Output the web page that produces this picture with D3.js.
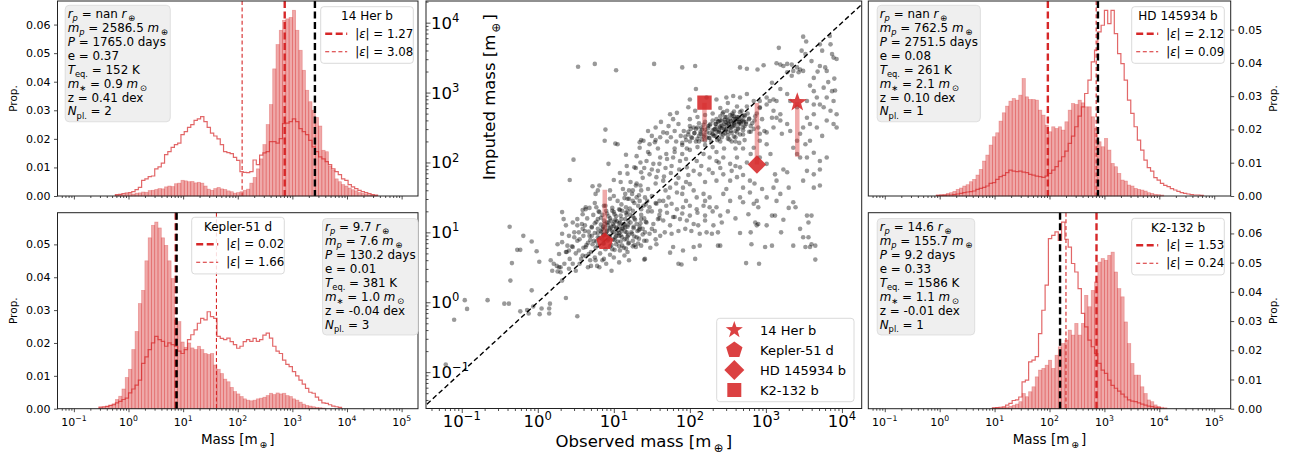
<!DOCTYPE html>
<html>
<head>
<meta charset="utf-8">
<script src="https://cdn.jsdelivr.net/npm/d3@7"></script>
<style>
  body { margin: 0; background: #fff; }
  svg { font-family: "DejaVu Sans", sans-serif; }
</style>
</head>
<body>
<svg id="fig" width="1293" height="459" font-family="DejaVu Sans"></svg>
<script>
// ---- planet data ----
const planetNames = ["14 Her b", "Kepler-51 d", "HD 145934 b", "K2-132 b"];
const radiusTxt = ["nan", "9.7", "nan", "14.6"];
const massObs = [2586.5, 7.6, 762.5, 155.7];
const periodDays = [1765.0, 130.2, 2751.5, 9.2];
const eccTxt = ["0.37", "0.01", "0.08", "0.33"];
const teqK = [152, 381, 261, 1586];
const mstarTxt = ["0.9", "1.0", "2.1", "1.1"];
const metalTxt = ["0.41", "-0.04", "0.10", "-0.01"];
const nPlanets = [2, 3, 1, 1];
const epsFilled = ["1.27", "0.02", "2.12", "1.53"];
const epsOutline = ["3.08", "1.66", "0.09", "0.24"];
// medians of the two histograms (log10 mass)
const medFilledLog = [2.86, 0.865, 1.97, 2.856];
const medOutlineLog = [2.08, 1.61, 2.85, 2.30];

// ---- histograms: log10 bin start, 0.06 dex bins, proportion x 1000 ----
const BW = 0.06;
const histStart = [-0.24, -0.54, -0.06, 0.96];
const her14Filled = [0.3,0.4,0.4,0.6,0.8,0.7,1.0,1.1,1.4,1.3, 1.9,2.0,2.3,2.6,2.5,3.2,3.5,3.3,4.3,4.5,
  5.5,5.3,5.0,5.1,4.6,4.8,4.5,3.5,2.4,2.0, 2.6,3.0,2.5,2.3,1.8,1.5,1.0,1.2,1.5,2.0,
  2.4,4.5,6.5,9.5,13.0,18.0,25.0,32.0,44.5,53.0, 58.0,61.5,62.0,62.5,65.0,58.0,51.0,44.0,37.0,33.0,
  30.0,27.5,24.5,16.0,15.5,10.5,9.0,6.0,5.0,4.0, 3.5,2.8,2.2,1.8,1.2,0.9,0.7,0.4,0.3,0.2];
const her14Outline = [0.5,0.6,0.8,1.0,1.2,1.5,2.2,3.0,5.5,6.0, 6.8,7.0,9.5,10.2,11.5,14.5,15.5,17.0,18.0,18.5,
  21.5,22.5,24.0,25.0,26.5,27.0,27.8,26.0,24.0,22.0, 21.0,20.0,18.0,15.5,15.2,14.8,13.5,12.5,8.5,8.3,
  8.2,8.5,12.6,11.0,14.3,15.1,15.5,19.0,19.0,18.5, 20.1,25.3,25.5,26.0,27.0,26.0,23.6,22.5,21.5,19.5,
  17.2,15.5,13.7,13.0,12.0,11.0,9.5,8.5,7.5,6.0, 5.5,4.0,3.2,2.6,2.0,1.5,1.2,0.8,0.5,0.3];
const kep51Filled = [0.3,0.5,0.7,1.0,1.5,2.8,3.8,6.0,9.5,12.0, 18.0,23.5,32.0,36.0,45.0,52.0,55.8,56.8,55.0,52.0,
  49.7,45.0,39.6,27.0,26.5,20.3,18.7,20.0,18.5,18.0, 19.0,18.0,16.8,16.5,16.8,13.3,12.0,10.7,9.0,8.2,
  6.5,5.2,4.5,3.7,3.0,2.6,2.4,2.6,3.0,3.2, 3.5,4.0,4.7,4.3,4.8,4.5,4.7,4.0,3.7,3.0,
  2.6,2.0,1.4,1.0,0.8,0.6,0.4,0.3,0.2];
const kep51Outline = [0.5,0.6,0.7,1.0,1.2,1.8,2.2,2.8,3.2,4.8, 6.0,7.2,8.7,13.8,15.8,18.0,20.0,22.0,21.0,20.5,
  19.0,20.0,19.5,19.0,17.5,16.8,18.0,21.0,22.5,24.0, 26.0,27.5,27.0,29.5,28.0,27.5,22.0,21.4,21.0,21.5,
  20.4,19.5,18.4,19.0,20.4,21.0,20.5,21.4,20.5,21.0, 22.4,23.0,21.5,19.0,17.5,16.8,14.8,13.5,12.8,11.3,
  10.0,8.7,7.5,6.2,5.0,4.7,3.5,2.6,1.8,1.6, 1.2,0.8,0.6,0.4];
const hd145Filled = [0.3,0.4,0.5,0.8,1.0,1.4,2.0,2.4,3.0,3.4, 4.3,5.0,6.3,8.0,10.5,12.3,15.3,17.8,19.0,22.5,
  25.0,27.0,28.5,29.3,28.8,30.3,35.3,29.8,29.0,29.0, 28.8,25.8,24.3,21.3,19.3,20.8,20.3,20.8,19.8,22.3,
  25.8,27.8,27.5,28.8,28.0,26.8,26.8,23.8,20.3,16.3, 14.8,17.3,13.8,9.8,8.8,6.8,4.8,4.5,3.3,3.0,
  2.3,2.0,1.8,1.5,1.0,0.8,0.5,0.4,0.3];
const hd145Outline = [0.2,0.2,0.2,0.3,0.3,0.4,0.6,0.8,1.0,1.2, 1.3,1.5,2.0,2.3,2.6,3.0,3.8,4.0,5.0,5.8,
  6.2,7.0,7.8,7.5,7.3,7.5,7.2,7.0,6.5,6.3, 6.0,5.8,5.6,6.0,6.8,7.8,8.8,10.5,11.8,13.5,
  15.8,18.0,20.8,24.0,26.8,30.8,34.8,40.3,43.8,49.3, 51.3,55.8,51.8,55.8,48.8,42.8,39.8,34.8,28.8,24.8,
  20.8,16.8,13.8,10.8,8.5,7.5,5.5,4.8,3.8,3.2, 2.8,2.2,1.8,1.4,1.0,0.8,0.6,0.4,0.3,0.3, 0.2];
const k2132Filled = [0.2,0.3,0.3,0.4,0.6,0.8,1.2,1.6,2.4,5.2, 4.1,5.8,7.5,10.9,13.2,13.8,14.9,16.6,13.8,18.3,
  21.2,22.3,23.5,26.9,25.2,29.2,25.2,29.2,38.8,34.9, 40.5,43.4,50.2,51.4,50.8,52.5,53.6,46.8,41.1,38.3,
  29.7,22.3,15.5,11.5,11.5,7.5,5.2,3.0,2.4,1.3, 0.8,0.5,0.3];
const k2132Outline = [0.3,0.4,0.5,0.6,1.2,1.8,2.8,3.0,4.0,9.2, 9.8,16.0,16.6,17.8,25.7,33.7,42.3,58.2,59.3,60.5,
  57.6,63.9,58.0,55.3,49.7,46.8,41.1,32.6,28.0,23.5, 21.2,18.9,15.5,13.2,12.1,9.8,8.0,7.0,6.0,5.0,
  4.0,3.0,2.6,2.4,2.0,1.6,1.2,0.9,0.7,0.5, 0.3];

// ---- scatter: [log10 observed mass, log10 imputed mass] ----
const scatterLog = [
  [0.53,3.37],[0.75,3.41],[1.03,3.32],[0.89,2.47],[0.88,2.31],[1.02,2.27],[1.05,2.26],[0.47,2.04],[0.93,1.98],[0.42,1.75],
  [0.72,1.66],[0.76,1.55],[0.81,1.67],[0.79,1.60],[1.16,2.11],[1.30,2.09],[1.17,1.95],[1.27,1.93],[1.29,1.92],[1.18,1.84],
  [1.35,2.0],[1.36,1.86],[1.09,1.72],[1.29,1.67],[1.35,1.67],[1.20,1.60],[1.24,1.55],[1.14,1.49],[1.18,1.48],[1.33,1.53],
  [1.34,2.29],[1.36,2.32],
  [1.53,3.41],[1.90,3.36],[2.07,3.38],[2.66,3.36],[2.75,3.34],[2.89,3.33],[2.97,3.39],[3.17,3.64],[3.49,3.80],[3.53,3.73],
  [3.84,3.81],[3.85,3.69],[3.74,3.60],[3.87,3.55],[3.93,3.48],[3.47,3.60],[3.52,3.55],
  [3.14,3.42],[3.19,3.40],[3.23,3.38],[3.28,3.41],[3.34,3.40],[3.41,3.36],[3.45,3.33],[3.49,3.31],[3.36,3.31],[3.43,3.29],
  [3.34,3.24],[3.28,3.29],[3.71,3.38],[3.78,3.36],[3.80,3.31],
  [3.63,3.21],[3.58,3.10],[3.63,3.02],[3.67,2.93],[3.08,3.14],[3.19,3.05],[3.10,2.90],[3.14,2.88],[3.01,2.93],[3.28,2.98],
  [3.32,2.88],[3.41,2.79],[3.54,2.88],[3.63,2.83],[3.71,2.83],[3.80,2.93],[3.89,2.88],[3.76,2.79],[3.85,2.74],[3.93,2.69],
  [3.87,3.02],[3.76,3.07],[3.63,2.69],[3.54,2.64],[3.58,2.55],[3.67,2.50],[3.80,2.60],[3.89,2.55],[3.93,2.50],[3.74,2.38],
  [3.49,2.50],[3.45,2.41],[3.41,2.31],[3.52,2.26],[3.58,2.31],[3.36,2.21],[3.41,2.12],[3.45,2.07],[3.54,2.07],[3.63,2.14],
  [3.71,2.02],[3.80,2.07],[3.71,1.90],[3.63,1.83],[3.54,1.88],[3.49,1.74],[3.63,1.64],[3.71,1.67],[3.30,1.64],[3.23,1.90],
  [3.28,1.86],[3.12,1.83],[3.14,1.74],[3.10,1.64],[3.19,1.55],[3.01,1.98],[2.92,2.07],[3.06,2.12],
  [3.01,2.26],[2.92,2.31],[2.84,2.21],[2.92,2.41],[3.01,2.43],[3.10,2.50],[3.08,2.64],
  [2.92,2.79],[3.01,2.83],[3.10,2.74],[3.19,2.69],[2.84,2.88],[2.92,2.88],[3.05,2.88],
  [3.14,2.64],[3.19,2.60],[3.28,2.55],[3.32,2.45],[3.21,2.41],
  [1.74,2.69],[1.83,2.71],[1.78,2.62],[1.72,2.52],[1.65,2.43],[1.61,2.36],[1.54,2.29],[1.47,2.26],[1.39,2.31],[1.34,2.21],
  [1.98,2.79],[2.07,2.74],[2.00,2.90],[2.22,2.93],[2.35,2.90],[2.48,2.93],[2.57,2.95],[2.66,2.93],[2.75,2.98],[2.08,3.05],
  [2.09,2.02],[2.18,2.12],[2.26,2.07],[2.35,2.02],[2.44,2.07],[2.53,1.98],[2.62,2.07],[2.66,1.93],
  [1.47,2.12],[1.43,2.02],[1.52,1.98],[1.61,2.07],[1.69,2.12],[1.78,2.07],[1.87,2.02],[1.96,1.93],[2.05,1.88],[2.13,1.83],
  [1.47,1.83],[1.56,1.79],[1.65,1.74],[1.74,1.64],[1.83,1.57],[1.91,1.64],[2.00,1.69],[2.09,1.50],[2.18,1.55],[2.26,1.50],
  [2.35,1.74],[2.44,1.83],[2.53,1.74],[2.62,1.79],[2.70,1.64],[2.79,1.74],
  [2.44,1.55],[2.53,1.45],[2.66,1.50],[2.79,1.57],[2.88,1.45],[3.01,1.50],[3.14,1.45],
  [1.36,1.60],[1.41,1.50],[1.34,1.45],
  [-1.21,-0.89],[-1.10,-0.25],[-0.96,0.03],[-0.93,-0.095],[-0.66,0.03],[-0.44,-0.02],[-0.38,-0.02],[-0.37,1.08],[-0.36,0.31],[-0.34,0.56],
  [-0.27,0.75],[-0.23,0.75],[-0.19,0.95],[-0.23,-0.13],[-0.14,-0.11],[-0.12,-0.16],[-0.08,0.87],[-0.08,0.17],[-0.06,-0.06],[-0.015,0.73],
  [0.025,-0.17],[0.05,-0.09],[0.15,-0.09],[0.15,-0.16],[0.16,-0.02],[0.02,0.58],[0.37,0.06],[0.52,-0.20],[0.32,1.29],[0.34,1.19],[0.17,0.60],
  [0.21,0.55],[0.25,0.52],[0.28,0.50],[0.19,0.45],[0.26,0.44],[0.30,0.43],[0.32,0.31],[0.41,0.48],[0.46,0.55],[0.50,0.45],
  [0.28,0.69],[0.37,0.72],[0.41,0.74],[0.26,0.83],[0.32,0.86],[0.39,0.81],[0.46,0.79],[0.52,0.88],[0.32,0.98],[0.41,0.95],
  [0.48,0.93],[0.54,1.00],[0.59,1.05],[0.37,1.10],[0.46,1.14],[0.52,1.19],[0.59,1.26],[0.63,1.33],[0.54,0.74],[0.59,0.67],
  [0.63,0.79],[0.67,0.69],[0.70,0.52],[0.76,0.60],[0.81,0.50],[0.87,0.62],[0.97,0.45],[1.00,0.64],[1.07,0.57],[1.14,0.67],
  [1.20,0.60],[1.29,0.79],[1.36,0.81],[1.40,0.61],
  [0.59,1.32],[0.63,1.36],[0.77,1.36],[0.81,1.29],[0.89,1.38],[0.98,1.31],[1.07,1.33],[1.16,1.36],[1.25,1.31],[1.36,1.33],
  [1.39,1.38],[1.47,1.36],[1.56,1.41],[1.61,1.31],[1.69,1.38],[1.76,1.41],[1.83,1.33],[1.91,1.36],[2.0,1.38],[2.09,1.33],
  [2.18,1.38],[2.26,1.36],[2.35,1.36],[2.40,1.24],[2.31,1.10],[2.42,1.14],[2.37,1.0],[2.29,0.98],
  [1.36,1.19],[1.43,1.14],[1.52,1.12],[1.58,1.19],[1.65,1.17],[1.74,1.10],[1.78,1.22],[1.87,1.19],[1.96,1.17],[2.05,1.12],
  [2.11,1.10],[2.20,1.17],[1.34,1.05],[1.41,1.0],[1.47,0.98],[1.54,1.02],[1.61,0.95],[1.67,1.0],[1.76,0.98],[1.85,1.02],
  [1.94,1.05],[2.02,1.02],[2.13,0.98],[2.22,1.0],[1.43,0.88],[1.56,0.83],[1.78,0.79],[1.91,0.74],[2.05,0.79],[2.13,0.81],
  [2.37,0.81],[1.41,0.62],[1.74,0.71],[1.85,0.55],[1.89,0.54],[2.07,0.62],[2.40,0.81],
  [2.70,1.43],[2.77,1.26],[2.84,1.41],[2.90,1.36],[2.66,0.99],[2.86,1.14],[2.88,1.10],[2.90,1.12],[3.01,1.10],[3.08,1.24],
  [3.12,1.24],[3.23,1.18],[2.81,0.83],[2.99,0.79],[3.08,0.81],[3.36,0.81],[2.74,0.56],[2.91,0.55],
  [3.36,1.43],[3.39,1.36],[3.54,1.24],[3.60,1.24],[3.56,1.14],[3.45,1.05],[3.56,0.93],[3.49,0.93],[3.52,0.79],[3.60,0.83],
  [3.65,0.81],[3.58,0.79],[3.65,0.61],
  [0.62,1.02],[0.68,0.95],[0.71,1.08],[0.74,0.88],[0.77,1.15],[0.79,0.99],[0.81,0.92],[0.83,1.21],[0.85,1.05],[0.86,0.84],
  [0.88,1.12],[0.9,0.97],[0.91,1.27],[0.93,0.9],[0.94,1.04],[0.96,1.17],[0.97,0.82],[0.99,1.0],[1.0,1.09],[1.02,0.93],
  [1.03,1.23],[1.05,0.87],[1.06,1.03],[1.08,1.14],[1.09,0.96],[1.11,1.31],[1.12,1.06],[1.14,0.9],[1.15,1.19],[1.17,1.0],
  [1.19,1.11],[1.2,0.85],[1.22,1.25],[1.24,0.98],[1.26,1.08],[1.28,1.18],[1.3,0.93],[1.33,1.03],[1.35,1.13],[1.38,0.97],
  [0.55,0.9],[0.58,1.12],[0.6,0.78],[0.65,1.2],[0.66,0.85],[0.7,0.72],[0.73,1.25],[0.76,0.78],[0.8,1.3],[0.82,0.7],
  [0.84,1.0],[0.87,1.38],[0.89,0.76],[0.92,1.1],[0.95,0.68],[0.98,1.35],[1.01,0.75],[1.04,1.16],[1.07,0.8],[1.1,1.4],
  [1.13,0.78],[1.16,1.28],[1.18,0.72],[1.21,1.34],[1.25,0.8],[1.27,1.42],[1.32,0.84],[1.36,1.25],[1.4,0.88],[1.42,1.15],
  [0.88,1.06],[0.93,1.14],[0.97,1.08],[1.01,1.15],[1.04,0.99],[1.07,1.08],[1.1,1.02],[1.13,1.12],[0.95,0.95],[0.99,0.9],
  [1.03,1.05],[1.07,0.95],[0.91,1.02],[1.15,1.07],[0.86,0.96],[1.18,0.94],
  [0.45,0.8],[0.48,1.0],[0.5,0.7],[0.52,1.1],[0.57,0.62],[0.63,0.66],[0.69,0.6],[0.75,0.64],[0.85,0.6],[0.9,0.55],
  [0.78,0.52],[0.66,0.5],[0.55,0.55],[0.42,0.62],[0.38,0.72],[0.35,0.55],[0.3,0.5],
  [1.45,1.3],[1.5,1.05],[1.55,0.9],[1.48,0.78],[1.6,1.2],[1.44,1.45],[1.3,1.5],[1.2,1.48],[1.05,1.45],[0.95,1.48],
  [0.75,1.42],[0.68,1.35],[1.0,1.52],[1.15,1.55],[1.25,1.6],
  [1.88,2.38],[1.92,2.45],[1.95,2.32],[1.98,2.4],[2.01,2.48],[2.03,2.35],[2.06,2.42],[2.08,2.3],[2.1,2.5],[2.12,2.38],
  [2.14,2.44],[2.16,2.33],[2.18,2.4],[2.2,2.47],[2.22,2.36],[2.24,2.52],[2.26,2.42],[2.28,2.3],[2.3,2.46],[2.32,2.38],
  [2.34,2.55],[2.36,2.44],[2.38,2.34],[2.4,2.6],[2.42,2.49],[2.44,2.4],[2.46,2.65],[2.48,2.53],[2.5,2.44],[2.52,2.62],
  [2.54,2.5],[2.56,2.7],[2.58,2.57],[2.6,2.45],[2.62,2.65],[2.64,2.55],[2.66,2.72],[2.68,2.6],[2.7,2.5],[2.72,2.66],
  [2.74,2.58],[2.76,2.7],[2.78,2.62],[2.8,2.52],
  [2.0,2.3],[2.05,2.5],[2.15,2.5],[2.25,2.35],[2.33,2.48],[2.37,2.58],[2.41,2.42],[2.45,2.55],[2.47,2.46],[2.51,2.55],
  [2.53,2.68],[2.55,2.42],[2.57,2.62],[2.59,2.52],[2.61,2.58],[2.63,2.48],[2.65,2.62],[2.67,2.55],[2.69,2.66],[2.71,2.58],
  [2.35,2.62],[2.43,2.7],[2.49,2.74],[2.27,2.55],[2.2,2.58],[2.12,2.56],
  [2.3,2.4],[2.35,2.5],[2.4,2.52],[2.45,2.48],[2.5,2.6],[2.55,2.56],[2.6,2.62],[2.65,2.58],[2.58,2.66],[2.52,2.5],
  [2.47,2.58],[2.42,2.6],[2.38,2.46],
  [1.9,2.25],[1.96,2.2],[2.1,2.22],[2.2,2.25],[2.3,2.22],[2.4,2.3],[2.5,2.34],[2.6,2.36],[2.7,2.4],[2.8,2.44],
  [2.85,2.6],[2.88,2.7],[2.9,2.5],[2.75,2.8],[2.62,2.8],[2.5,2.85],[2.4,2.78],[2.3,2.7],[2.2,2.68],[2.1,2.65],
  [2.0,2.62],[1.85,2.55],[1.8,2.45],[1.82,2.3],[1.75,2.36],
  [2.55,2.3],[2.65,2.28],[2.35,2.15],[2.45,2.2],[2.72,2.32],[2.95,2.62],[2.98,2.45],[2.92,2.78],
  [1.45,2.45],[1.55,2.5],[1.62,2.58],[1.7,2.3],[1.58,2.2],[1.5,2.38],[1.8,2.2],[1.9,2.12],[1.68,1.92],[1.4,1.92],
  [1.58,1.88],[1.75,1.85],[1.85,1.78],[1.95,1.72],[2.25,1.9],[2.4,1.92],[2.55,1.88],[2.7,1.82],[2.85,1.7],[2.95,1.62],
  [2.6,2.2],[2.8,2.12],[2.7,2.2],
  [3.71,3.69],[3.89,3.5],[3.91,3.03],[3.6,3.45],[3.9,3.2],[3.82,3.15],[3.68,3.3],
  // denser cores
  [0.72,0.83],[0.79,0.81],[0.87,0.84],[0.95,0.8],[1.03,0.83],[1.11,0.81],[1.19,0.84],[1.27,0.82],
  [0.69,0.89],[0.77,0.87],[0.85,0.9],[0.92,0.88],[1.01,0.89],[1.09,0.87],[1.17,0.9],[1.25,0.88],[1.33,0.91],
  [0.71,0.95],[0.79,0.93],[0.87,0.96],[0.94,0.94],[1.03,0.95],[1.11,0.93],[1.19,0.96],[1.27,0.94],
  [0.67,1.01],[0.75,0.99],[0.83,1.02],[0.9,1.0],[0.98,1.02],[1.07,0.99],[1.15,1.01],[1.23,1.0],[1.31,1.02],
  [0.71,1.07],[0.79,1.05],[0.86,1.08],[0.95,1.06],[1.03,1.07],[1.11,1.05],[1.18,1.08],[1.26,1.06],[1.34,1.08],
  [0.75,1.13],[0.83,1.11],[0.91,1.14],[0.99,1.12],[1.07,1.13],[1.14,1.11],[1.22,1.14],[1.3,1.12],
  [0.79,1.19],[0.87,1.17],[0.95,1.2],[1.02,1.18],[1.1,1.19],[1.19,1.17],[1.27,1.2],
  [0.85,1.25],[0.93,1.23],[1.01,1.26],[1.09,1.24],[1.17,1.25],[1.25,1.23],
  [0.9,1.31],[1.0,1.29],[1.08,1.32],[1.18,1.3],
  [0.6,0.95],[0.62,1.1],[0.64,0.82],[1.38,1.05],[1.4,1.2],[0.98,0.76],[1.08,0.74],[1.16,0.77],
  [2.02,2.36],[2.1,2.34],[2.18,2.37],[2.26,2.35],[2.34,2.38],[2.42,2.36],[2.5,2.39],[2.58,2.37],[2.66,2.4],
  [2.06,2.42],[2.14,2.41],[2.22,2.43],[2.3,2.41],[2.38,2.44],[2.46,2.42],[2.54,2.45],[2.62,2.43],[2.7,2.46],[2.78,2.44],
  [2.08,2.48],[2.16,2.47],[2.24,2.49],[2.32,2.47],[2.4,2.5],[2.48,2.48],[2.56,2.51],[2.64,2.49],[2.72,2.52],
  [2.18,2.54],[2.26,2.53],[2.34,2.55],[2.42,2.53],[2.5,2.56],[2.58,2.54],[2.66,2.57],[2.74,2.55],
  [2.3,2.6],[2.38,2.59],[2.46,2.61],[2.54,2.59],[2.62,2.62],[2.7,2.6],[2.78,2.63],
  [2.4,2.66],[2.48,2.65],[2.56,2.67],[2.64,2.65],[2.72,2.68],
  [1.98,2.44],[1.94,2.37],[2.0,2.52],[2.12,2.3],[2.2,2.31],[2.36,2.32],[2.52,2.33],[2.6,2.3],
  [2.44,2.72],[2.58,2.73],[2.68,2.74],[2.82,2.56],[2.86,2.66],[2.84,2.48],
  // band between the two groups
  [1.3,1.7],[1.38,1.78],[1.45,1.62],[1.5,1.9],[1.55,1.7],[1.6,1.98],[1.66,1.8],[1.7,2.05],[1.76,1.95],[1.8,2.15],
  [1.86,1.9],[1.9,2.28],[1.95,2.05],[2.0,2.18],[1.42,1.4],[1.5,1.52],[1.6,1.45],[1.68,1.6],[1.72,1.5],[1.82,1.7],
  [1.9,1.55],[1.98,1.82],[2.05,1.6],[2.15,1.95],[2.2,1.72],[2.3,1.85],[2.38,2.0],[2.48,1.62],[2.6,1.95],[2.75,2.0],
  [1.25,1.45],[1.32,1.38],[1.22,1.72],[1.12,1.62],[1.08,1.85],[1.0,1.75],[0.95,1.6],[1.45,2.15],[1.55,2.32],[1.7,2.42],
  [1.5,1.3],[1.6,1.25],[1.7,1.28],[1.8,1.22],[1.9,1.27],[2.0,1.24],[2.1,1.28],[2.2,1.24],[2.3,1.3],[2.5,1.3],
  [2.6,1.2],[2.8,1.0],[3.2,1.0],[3.3,1.35],[1.55,1.42],[1.65,1.45],[1.95,1.45],[2.2,1.45]
];

const svg = d3.select("#fig");
const RED = "#d62728";

// text with italic / subscript pieces
function rich(g, x, y, segs, fs) {
  const t = g.append("text").attr("x", x).attr("y", y).attr("font-size", fs);
  let shift = 0;
  segs.forEach(([s, st]) => {
    st = st || "";
    const sub = st.includes("sub");
    const target = sub ? fs * 0.28 : 0;
    const ts = t.append("tspan").attr("dy", target - shift).text(s);
    shift = target;
    if (sub) ts.attr("font-size", fs * 0.7);
    if (st.startsWith("i")) ts.attr("font-style", "italic");
  });
  return t;
}

function powLabel(t, k, fs) {
  t.append("tspan").text("10");
  t.append("tspan").attr("dy", -0.42 * fs).attr("font-size", fs * 0.7)
    .text(k < 0 ? "\u2212" + (-k) : String(k));
}

function infoLines(p) {
  return [
    [["r", "i"], ["p", "isub"], [" = " + radiusTxt[p] + " "], ["r", "i"], ["\u2009\u2295", "sub"]],
    [["m", "i"], ["p", "isub"], [" = " + massObs[p].toFixed(1) + " "], ["m", "i"], ["\u2009\u2295", "sub"]],
    [["P", "i"], [" = " + periodDays[p].toFixed(1) + " days"]],
    [["e = " + eccTxt[p]]],
    [["T", "i"], ["eq.", "sub"], [" = " + teqK[p] + " K"]],
    [["m", "i"], ["\u2217", "sub"], [" = " + mstarTxt[p] + " "], ["m", "i"], ["\u2009\u2299", "sub"]],
    [["z = " + metalTxt[p] + " dex"]],
    [["N", "i"], ["pl.", "sub"], [" = " + nPlanets[p]]]
  ];
}

// panel layout
const panels = [
  {x0: 57.5, x1: 418, y0: 1, y1: 196, side: "left", labels: false, info: [67.7, 17.8], leg: [320.7, 6.7],
   filled: her14Filled, outline: her14Outline},
  {x0: 57.5, x1: 418, y0: 212.7, y1: 408.7, side: "left", labels: true, info: [325, 231], leg: [191.7, 217.3],
   filled: kep51Filled, outline: kep51Outline},
  {x0: 868.3, x1: 1230.7, y0: 1, y1: 196, side: "right", labels: false, info: [879.7, 17.8], leg: [1131.7, 6.7],
   filled: hd145Filled, outline: hd145Outline},
  {x0: 868.3, x1: 1230.7, y0: 212.7, y1: 408.7, side: "right", labels: true, info: [879.7, 231], leg: [1131.7, 218.3],
   filled: k2132Filled, outline: k2132Outline}
];

const majors = d3.range(-1, 6).map(k => 10 ** k);
function minorsFor(lo, hi) {
  const out = [];
  for (let k = -2; k <= 5; k++) for (let m = 2; m <= 9; m++) {
    const v = m * 10 ** k;
    if (v > lo && v < hi) out.push(v);
  }
  return out;
}

panels.forEach((cfg, p) => {
  const g = svg.append("g");
  const start = histStart[p];
  const x = d3.scaleLog().domain([10 ** -1.3, 10 ** 5.3]).range([cfg.x0, cfg.x1]);
  const ymax = 1.05 * d3.max(cfg.filled.concat(cfg.outline)) / 1000;
  const y = d3.scaleLinear().domain([0, ymax]).range([cfg.y1, cfg.y0]);
  const edge = i => x(10 ** (start + i * BW));

  g.selectAll("rect.bar").data(cfg.filled).join("rect")
    .attr("x", (d, i) => edge(i))
    .attr("width", (d, i) => edge(i + 1) - edge(i))
    .attr("y", d => y(d / 1000))
    .attr("height", d => cfg.y1 - y(d / 1000))
    .attr("fill", RED).attr("fill-opacity", 0.4)
    .attr("stroke", RED).attr("stroke-opacity", 0.35).attr("stroke-width", 0.7);

  const pts = [[edge(0), cfg.y1]];
  cfg.outline.forEach((d, i) => { pts.push([edge(i), y(d / 1000)], [edge(i + 1), y(d / 1000)]); });
  pts.push([edge(cfg.outline.length), cfg.y1]);
  g.append("path").attr("d", d3.line()(pts))
    .attr("fill", "none").attr("stroke", RED).attr("stroke-opacity", 0.7).attr("stroke-width", 1.2);

  // median / observed lines
  const vline = (v, col, w, dash) => g.append("line")
    .attr("x1", x(v)).attr("x2", x(v)).attr("y1", cfg.y0).attr("y2", cfg.y1)
    .attr("stroke", col).attr("stroke-width", w).attr("stroke-dasharray", dash);
  vline(10 ** medOutlineLog[p], RED, 1.1, "4,2.6");
  vline(10 ** medFilledLog[p], RED, 2.4, "7,3.5");
  vline(massObs[p], "#000", 2.4, "7,3.5");

  // x axis
  const xa = g.append("g").attr("transform", `translate(0,${cfg.y1})`);
  xa.append("g").call(d3.axisBottom(x).tickValues(majors).tickSize(3.5).tickFormat(""));
  xa.append("g").call(d3.axisBottom(x).tickValues(minorsFor(10 ** -1.3, 10 ** 5.3)).tickSize(2).tickFormat(""));
  xa.selectAll(".domain").remove();
  xa.selectAll("line").attr("stroke", "#222").attr("stroke-width", 0.8);
  if (cfg.labels) {
    majors.forEach((v, k) => {
      const t = g.append("text").attr("x", x(v)).attr("y", 426).attr("text-anchor", "middle").attr("font-size", 11);
      powLabel(t, k - 1, 11);
    });
    rich(g, (cfg.x0 + cfg.x1) / 2, 444, [["Mass [m"], ["\u2009\u2295\u2009", "sub"], ["]"]], 13.5).attr("text-anchor", "middle");
  }

  // y axis
  const yt = d3.range(0, ymax + 1e-9, 0.01);
  const ya = g.append("g");
  if (cfg.side === "left") {
    ya.attr("transform", `translate(${cfg.x0},0)`)
      .call(d3.axisLeft(y).tickValues(yt).tickSize(3.5).tickPadding(3.5).tickFormat(d3.format(".2f")));
  } else {
    ya.attr("transform", `translate(${cfg.x1},0)`)
      .call(d3.axisRight(y).tickValues(yt).tickSize(3.5).tickPadding(3.5).tickFormat(d3.format(".2f")));
  }
  ya.select(".domain").remove();
  ya.attr("font-family", "DejaVu Sans");
  ya.selectAll("text").attr("font-size", 11).attr("fill", "#000");
  ya.selectAll("line").attr("stroke", "#222").attr("stroke-width", 0.8);
  const ly = cfg.side === "left" ? 17 : 1277;
  g.append("text").attr("transform", `translate(${ly},${(cfg.y0 + cfg.y1) / 2}) rotate(-90)`)
    .attr("text-anchor", "middle").attr("font-size", 10.5).text("Prop.");

  // frame
  g.append("rect").attr("x", cfg.x0).attr("y", cfg.y0)
    .attr("width", cfg.x1 - cfg.x0).attr("height", cfg.y1 - cfg.y0)
    .attr("fill", "none").attr("stroke", "#222").attr("stroke-width", 1);

  // info box
  const ib = g.append("g");
  const ibBg = ib.append("rect");
  const texts = ib.append("g");
  infoLines(p).forEach((segs, i) => rich(texts, cfg.info[0], cfg.info[1] + i * 13.95, segs, 11.9));
  const bb = texts.node().getBBox();
  ibBg.attr("x", bb.x - 2.5).attr("y", bb.y - 1.5).attr("width", bb.width + 5).attr("height", bb.height + 2.5)
    .attr("rx", 4).attr("fill", "#efefef").attr("stroke", "#d8d8d8").attr("stroke-width", 0.8);

  // legend
  const [lx, lyy] = cfg.leg;
  const lg = g.append("g");
  lg.append("rect").attr("x", lx).attr("y", lyy).attr("width", 92.6).attr("height", 56.6)
    .attr("rx", 3).attr("fill", "#fff").attr("fill-opacity", 0.85).attr("stroke", "#d0d0d0").attr("stroke-width", 0.8);
  lg.append("text").attr("x", lx + 46.3).attr("y", lyy + 13.5).attr("text-anchor", "middle")
    .attr("font-size", 12).text(planetNames[p]);
  [[epsFilled[p], 2.4, "7,3.5"], [epsOutline[p], 1.1, "4,2.6"]].forEach(([eps, w, dash], i) => {
    const cy = lyy + 27 + i * 18;
    lg.append("line").attr("x1", lx + 4.5).attr("x2", lx + 26.5).attr("y1", cy).attr("y2", cy)
      .attr("stroke", RED).attr("stroke-width", w).attr("stroke-dasharray", dash);
    rich(lg, lx + 34.5, cy + 4, [["|"], ["\u03b5", "i"], ["| = " + eps]], 11.8);
  });
});

// ---- centre scatter ----
const C = {x0: 426, x1: 861.7, y0: 1, y1: 408.5};
const cx = d3.scaleLog().domain([10 ** -1.47, 10 ** 4.26]).range([C.x0, C.x1]);
const cy = d3.scaleLog().domain([10 ** -1.52, 10 ** 4.31]).range([C.y1, C.y0]);
const cg = svg.append("g");
cg.append("defs").append("clipPath").attr("id", "cclip").append("rect")
  .attr("x", C.x0).attr("y", C.y0).attr("width", C.x1 - C.x0).attr("height", C.y1 - C.y0);
const plot = cg.append("g").attr("clip-path", "url(#cclip)");

plot.selectAll("circle").data(scatterLog).join("circle")
  .attr("cx", d => cx(10 ** d[0])).attr("cy", d => cy(10 ** d[1])).attr("r", 2.3)
  .attr("fill", "#000").attr("fill-opacity", 0.4);

plot.append("line")
  .attr("x1", cx(10 ** -2)).attr("y1", cy(10 ** -2)).attr("x2", cx(10 ** 5)).attr("y2", cy(10 ** 5))
  .attr("stroke", "#000").attr("stroke-width", 1.4).attr("stroke-dasharray", "5,3");

// marker shapes
function shapePath(kind, r) {
  if (kind === "star") {
    const pts = d3.range(10).map(i => {
      const a = -Math.PI / 2 + i * Math.PI / 5, rr = i % 2 ? r * 0.4 : r;
      return [rr * Math.cos(a), rr * Math.sin(a)];
    });
    return d3.line()(pts) + "Z";
  }
  if (kind === "pentagon") {
    const pts = d3.range(5).map(i => {
      const a = -Math.PI / 2 + i * 2 * Math.PI / 5;
      return [r * Math.cos(a), r * Math.sin(a)];
    });
    return d3.line()(pts) + "Z";
  }
  if (kind === "diamond") return d3.line()([[0, -r], [r, 0], [0, r], [-r, 0]]) + "Z";
  return d3.line()([[-r, -r], [r, -r], [r, r], [-r, r]]) + "Z";
}
const markerKind = ["star", "pentagon", "diamond", "square"];
const markerSize = [10, 9, 9.2, 7.2];

planetNames.forEach((nm, p) => {
  plot.append("line")
    .attr("x1", cx(massObs[p])).attr("x2", cx(massObs[p]))
    .attr("y1", cy(10 ** medFilledLog[p])).attr("y2", cy(10 ** medOutlineLog[p]))
    .attr("stroke", RED).attr("stroke-opacity", 0.4).attr("stroke-width", 4.5);
});
planetNames.forEach((nm, p) => {
  plot.append("path").attr("d", shapePath(markerKind[p], markerSize[p]))
    .attr("transform", `translate(${cx(massObs[p])},${cy(10 ** medFilledLog[p])})`)
    .attr("fill", RED).attr("fill-opacity", 0.88);
});

// centre axes
const cMaj = d3.range(-1, 5).map(k => 10 ** k);
const xa = cg.append("g").attr("transform", `translate(0,${C.y1})`);
xa.append("g").call(d3.axisBottom(cx).tickValues(cMaj).tickSize(4.5).tickFormat(""));
xa.append("g").call(d3.axisBottom(cx).tickValues(minorsFor(10 ** -1.47, 10 ** 4.26)).tickSize(2.5).tickFormat(""));
const yaC = cg.append("g").attr("transform", `translate(${C.x0},0)`);
yaC.append("g").call(d3.axisRight(cy).tickValues(cMaj).tickSize(4.5).tickFormat(""));
yaC.append("g").call(d3.axisRight(cy).tickValues(minorsFor(10 ** -1.52, 10 ** 4.31)).tickSize(2.5).tickFormat(""));
cg.selectAll(".domain").remove();
cg.selectAll(".tick line").attr("stroke", "#222").attr("stroke-width", 0.8);

cMaj.forEach((v, i) => {
  const t = cg.append("text").attr("x", cx(v)).attr("y", 427).attr("text-anchor", "middle").attr("font-size", 16.5);
  powLabel(t, i - 1, 16.5);
  const u = cg.append("text").attr("x", 431).attr("y", cy(v) + 6).attr("font-size", 16.5);
  powLabel(u, i - 1, 16.5);
});
rich(cg, (C.x0 + C.x1) / 2, 447, [["Observed mass [m"], ["\u2009\u2295\u2009", "sub"], ["]"]], 16.5).attr("text-anchor", "middle");
rich(cg, 0, 0, [["Imputed mass [m"], ["\u2009\u2295\u2009", "sub"], ["]"]], 16.5)
  .attr("text-anchor", "middle").attr("transform", "translate(495,97) rotate(-90)");

cg.append("rect").attr("x", C.x0).attr("y", C.y0).attr("width", C.x1 - C.x0).attr("height", C.y1 - C.y0)
  .attr("fill", "none").attr("stroke", "#222").attr("stroke-width", 1);

// centre legend
const lgC = cg.append("g");
lgC.append("rect").attr("x", 716.7).attr("y", 318.3).attr("width", 137.3).attr("height", 83.4)
  .attr("rx", 3).attr("fill", "#fff").attr("fill-opacity", 0.85).attr("stroke", "#d0d0d0").attr("stroke-width", 0.8);
const legSize = [9, 8.6, 10, 7];
planetNames.forEach((nm, p) => {
  const yy = 330 + p * 20;
  lgC.append("path").attr("d", shapePath(markerKind[p], legSize[p]))
    .attr("transform", `translate(734.3,${yy})`).attr("fill", RED).attr("fill-opacity", 0.88);
  lgC.append("text").attr("x", 760).attr("y", yy + 4.6).attr("font-size", 13).text(nm);
});
</script>
</body>
</html>
